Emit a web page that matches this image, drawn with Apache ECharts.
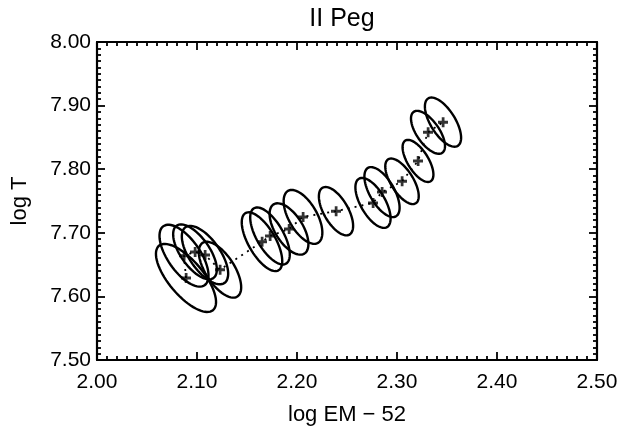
<!DOCTYPE html>
<html>
<head>
<meta charset="utf-8">
<script src="https://cdn.jsdelivr.net/npm/echarts@6/dist/echarts.min.js"></script>
<style>
  html, body { margin: 0; padding: 0; background: #fff; }
  #chart { width: 629px; height: 432px; }
</style>
</head>
<body>
<div id="chart"></div>
<script>
// best-fit points (log EM - 52, log T), in time order
const logEM = [2.089, 2.087, 2.098, 2.108, 2.123, 2.165, 2.173, 2.192, 2.206, 2.239, 2.276, 2.285, 2.305, 2.321, 2.331, 2.346];
const logT  = [7.629, 7.664, 7.670, 7.665, 7.642, 7.686, 7.695, 7.706, 7.725, 7.734, 7.747, 7.764, 7.781, 7.813, 7.858, 7.874];
// confidence contours: semi-major extent in EM and T, and minor/major ratio
const errEM = [0.0270, 0.0206, 0.0184, 0.0195, 0.0174, 0.0165, 0.0160, 0.0154, 0.0150, 0.0135, 0.0140, 0.0140, 0.0138, 0.0127, 0.0143, 0.0148];
const errT  = [0.0506, 0.0464, 0.0412, 0.0438, 0.0422, 0.0450, 0.0436, 0.0387, 0.0409, 0.0368, 0.0381, 0.0381, 0.0346, 0.0320, 0.0322, 0.0373];
const axisRatio = [0.41, 0.45, 0.45, 0.45, 0.45, 0.41, 0.42, 0.48, 0.47, 0.45, 0.44, 0.44, 0.43, 0.43, 0.45, 0.44];

const xTicks = [2.0, 2.5, 0.1];
const yTicks = [7.5, 8.0, 0.1];

const FONT = 'Liberation Sans';

let points = logEM.map((x, i) => [x, logT[i]]);
let ellipses = logEM.map((x, i) => [x, logT[i], errEM[i], errT[i], axisRatio[i]]);

function renderEllipse(params, api) {
    let c = api.coord([api.value(0), api.value(1)]);
    let e = api.coord([api.value(0) + api.value(2), api.value(1) - api.value(3)]);
    let ux = e[0] - c[0], uy = e[1] - c[1];
    let r = api.value(4);
    let vx = -uy * r, vy = ux * r;
    let pts = [];
    for (let k = 0; k < 72; k++) {
        let t = k / 72 * Math.PI * 2;
        pts.push([c[0] + ux * Math.cos(t) + vx * Math.sin(t), c[1] + uy * Math.cos(t) + vy * Math.sin(t)]);
    }
    return {
        type: 'polygon',
        shape: { points: pts },
        style: { fill: 'none', stroke: '#000', lineWidth: 2.4 }
    };
}

function makeX(pos, showLabel) {
    return {
        type: 'value', position: pos,
        min: xTicks[0], max: xTicks[1], interval: xTicks[2],
        name: showLabel ? 'log EM \u2212 52' : '',
        nameLocation: 'middle', nameGap: 44,
        nameTextStyle: { color: '#000', fontSize: 22, fontFamily: FONT },
        axisLine: { show: true, onZero: false, lineStyle: { color: '#000', width: 2.2 } },
        axisTick: { show: true, inside: true, length: 8, lineStyle: { color: '#000', width: 1.8 } },
        minorTick: { show: true, splitNumber: 10, length: 4, lineStyle: { color: '#000', width: 1.8 } },
        axisLabel: { show: showLabel, margin: 12, color: '#000', fontSize: 21, fontFamily: FONT,
            formatter: v => v.toFixed(2) },
        splitLine: { show: false }
    };
}

function makeY(pos, showLabel) {
    return {
        type: 'value', position: pos,
        min: yTicks[0], max: yTicks[1], interval: yTicks[2],
        name: showLabel ? 'log T' : '',
        nameLocation: 'middle', nameGap: 66,
        nameTextStyle: { color: '#000', fontSize: 22, fontFamily: FONT },
        axisLine: { show: true, onZero: false, lineStyle: { color: '#000', width: 2.2 } },
        axisTick: { show: true, inside: true, length: 8, lineStyle: { color: '#000', width: 1.8 } },
        minorTick: { show: true, splitNumber: 10, length: 4, lineStyle: { color: '#000', width: 1.8 } },
        axisLabel: { show: showLabel, margin: 6, color: '#000', fontSize: 21, fontFamily: FONT,
            formatter: v => v.toFixed(2) },
        splitLine: { show: false }
    };
}

let myChart = echarts.init(document.getElementById('chart'), null, { renderer: 'canvas' });
myChart.setOption({
    backgroundColor: '#fff',
    animation: false,
    title: {
        text: 'II Peg', left: 337, top: 2, textAlign: 'center',
        textStyle: { color: '#000', fontSize: 25, fontWeight: 'normal', fontFamily: FONT }
    },
    grid: { left: 97, right: 32, top: 42, bottom: 72 },
    xAxis: [makeX('bottom', true), makeX('top', false)],
    yAxis: [makeY('left', true), makeY('right', false)],
    series: [
        {
            type: 'custom',
            renderItem: renderEllipse,
            data: ellipses,
            clip: true,
            z: 2
        },
        {
            type: 'line',
            data: points,
            showSymbol: false,
            lineStyle: { color: '#000', width: 1.8, type: [2, 5] },
            z: 3
        },
        {
            type: 'scatter',
            data: points,
            symbol: 'path://M3,0H5.2V2.8H8V5.2H5.2V8H3V5.2H0V2.8H3Z',
            symbolSize: 10,
            itemStyle: { color: '#000' },
            z: 4
        }
    ]
});
</script>
</body>
</html>
